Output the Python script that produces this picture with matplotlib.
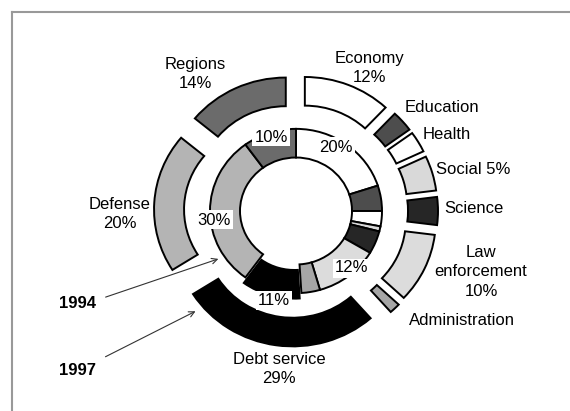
import matplotlib.pyplot as plt
from matplotlib.lines import Line2D

# budget shares, clockwise from 12 o'clock
categories = ["Economy", "Education", "Health", "Social", "Science",
              "Law enforcement", "Administration", "Debt service", "Defense", "Regions"]
share_1994 = [20, 5, 3, 1, 4.5, 12, 3.5, 11, 30, 10]
share_1997 = [12, 3, 3, 5, 4, 10, 1.5, 27.5, 20, 14]
colors = ["#ffffff", "#4d4d4d", "#ffffff", "#d9d9d9", "#262626",
          "#dcdcdc", "#a6a6a6", "#000000", "#b4b4b4", "#6b6b6b"]

outer_labels = ["Economy\n12%", "Education", "Health", "Social 5%", "Science",
                "Law\nenforcement\n10%", "Administration", "Debt service\n29%",
                "Defense\n20%", "Regions\n14%"]
inner_labels = {"Economy": "20%", "Law enforcement": "12%", "Debt service": "11%",
                "Defense": "30%", "Regions": "10%"}

W, H = 570, 411
CX, CY = 296, 211      # centre of the doughnut in pixels
SX, SY = 100, 95.5     # pixels per data unit (slightly squashed vertically)

plt.rcParams['font.family'] = ['Liberation Sans', 'DejaVu Sans']

fig = plt.figure(figsize=(W / 100, H / 100), dpi=100)
ax = fig.add_axes([0, 0, 1, 1])

wp = dict(edgecolor="black", linewidth=1.4)
ax.pie(share_1997, radius=1.18, colors=colors, startangle=90, counterclock=False,
       explode=[0.24] * len(share_1997), wedgeprops=dict(width=0.30, **wp))
inner_explode = [0.06 if c == "Debt service" else 0 for c in categories]
ax.pie(share_1994, radius=0.86, colors=colors, startangle=90, counterclock=False,
       explode=inner_explode, wedgeprops=dict(width=0.30, **wp))

ax.set_aspect("auto")
ax.set_xlim(-CX / SX, (W - CX) / SX)
ax.set_ylim(-(H - CY) / SY, CY / SY)
ax.axis("off")


def ftext(x, y, s, **kw):
    fig.text(x / W, 1 - y / H, s, ha="center", va="center", fontsize=12,
             linespacing=1.35, **kw)


# outer ring (1997) labels
outer_pos = [(370, 68), (442, 108), (447, 134), (473, 170), (474, 208),
             (481, 272), (462, 320), (279, 369), (120, 214), (195, 74)]
for (x, y), s in zip(outer_pos, outer_labels):
    ftext(x, y, s)

# inner ring (1994) labels
inner_pos = {"Economy": (336, 147), "Law enforcement": (352, 268),
             "Debt service": (274, 300), "Defense": (214, 220), "Regions": (271, 137)}
for c, s in inner_labels.items():
    x, y = inner_pos[c]
    ftext(x, y, s, bbox=dict(facecolor="white", edgecolor="none", pad=1.5))

# year markers
ftext(77, 303, "1994", fontweight="bold")
ftext(77, 370, "1997", fontweight="bold")
for (x0, y0), (x1, y1) in [((103, 298), (221, 258)), ((103, 358), (198, 310))]:
    ax.annotate("", xy=(x1 / W, 1 - y1 / H), xytext=(x0 / W, 1 - y0 / H),
                xycoords="figure fraction", textcoords="figure fraction",
                arrowprops=dict(arrowstyle="->", color="#333333", lw=0.8))

# chart frame (only the top and left sides fall inside the picture)
fig.add_artist(Line2D([12 / W, 1], [1 - 12 / H, 1 - 12 / H], color="#999999", lw=1.5))
fig.add_artist(Line2D([12 / W, 12 / W], [0, 1 - 12 / H], color="#999999", lw=1.5))

fig.savefig("out.png", dpi=100)
